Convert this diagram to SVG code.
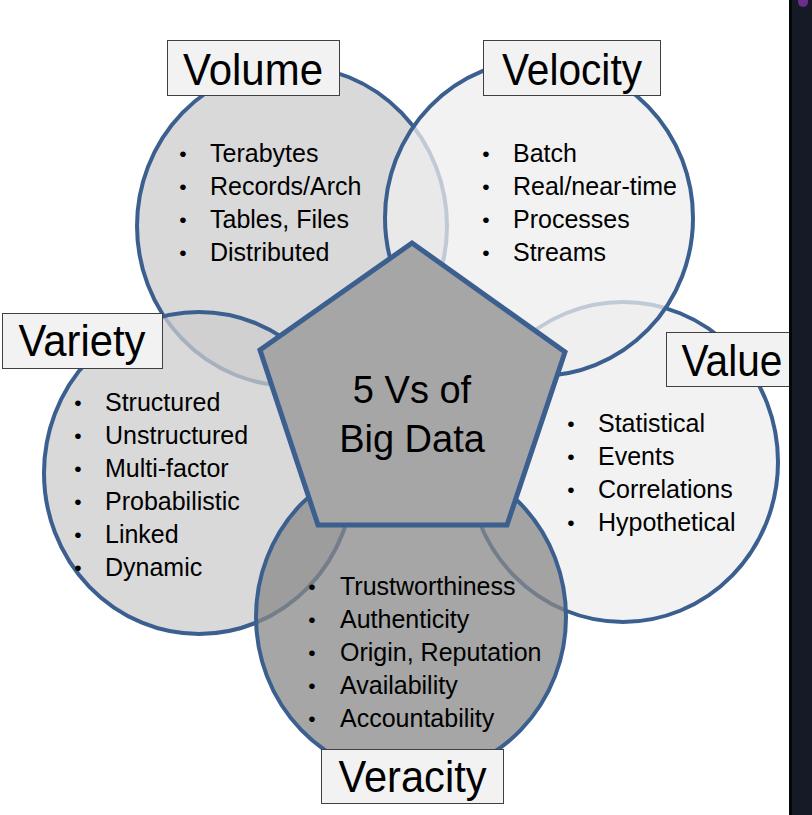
<svg xmlns="http://www.w3.org/2000/svg" width="812" height="815" viewBox="0 0 812 815">
<style>
.c{stroke:#3b5f8f;stroke-width:4;fill-opacity:0.75}
.lt{fill:#ededed}
.md{fill:#cccccc}
.dk{fill:#888888}
.box{fill:#f2f2f2;stroke:#404040;stroke-width:1}
.t{font-family:"Liberation Sans",Arial,sans-serif;fill:#000}
.h{font-size:45px;text-anchor:middle}
.b{font-size:25px}
.d{font-size:21px;text-anchor:middle}
</style>
<rect x="0" y="0" width="812" height="815" fill="#ffffff"/>

<g id="volume">
  <ellipse class="c md" cx="292" cy="226" rx="155" ry="160"/>
  <rect class="box" x="167.5" y="40.5" width="172" height="55"/>
  <text class="t h" x="253" y="85" textLength="140" lengthAdjust="spacingAndGlyphs">Volume</text>
  <g class="t">
    <text class="d" x="183" y="161">•</text><text class="b" x="210" y="162">Terabytes</text>
    <text class="d" x="183" y="194">•</text><text class="b" x="210" y="195">Records/Arch</text>
    <text class="d" x="183" y="227">•</text><text class="b" x="210" y="228">Tables, Files</text>
    <text class="d" x="183" y="260">•</text><text class="b" x="210" y="261">Distributed</text>
  </g>
</g>

<g id="value">
  <ellipse class="c lt" cx="623" cy="462" rx="155" ry="160"/>
  <rect class="box" x="666.5" y="332.5" width="134" height="54"/>
  <text class="t h" x="732" y="376" textLength="101" lengthAdjust="spacingAndGlyphs">Value</text>
  <g class="t">
    <text class="d" x="571" y="431">•</text><text class="b" x="598" y="432">Statistical</text>
    <text class="d" x="571" y="464">•</text><text class="b" x="598" y="465">Events</text>
    <text class="d" x="571" y="497">•</text><text class="b" x="598" y="498">Correlations</text>
    <text class="d" x="571" y="530">•</text><text class="b" x="598" y="531">Hypothetical</text>
  </g>
</g>

<g id="variety">
  <ellipse class="c md" cx="199" cy="473" rx="155" ry="161"/>
  <rect class="box" x="2.5" y="313.5" width="160" height="55"/>
  <text class="t h" x="82" y="356" textLength="127" lengthAdjust="spacingAndGlyphs">Variety</text>
  <g class="t">
    <text class="d" x="78" y="410">•</text><text class="b" x="105" y="411">Structured</text>
    <text class="d" x="78" y="443">•</text><text class="b" x="105" y="444">Unstructured</text>
    <text class="d" x="78" y="476">•</text><text class="b" x="105" y="477">Multi-factor</text>
    <text class="d" x="78" y="509">•</text><text class="b" x="105" y="510">Probabilistic</text>
    <text class="d" x="78" y="542">•</text><text class="b" x="105" y="543">Linked</text>
    <text class="d" x="78" y="575">•</text><text class="b" x="105" y="576">Dynamic</text>
  </g>
</g>

<g id="velocity">
  <ellipse class="c lt" cx="539" cy="218" rx="154" ry="158"/>
  <rect class="box" x="483.5" y="40.5" width="177" height="55"/>
  <text class="t h" x="572" y="85" textLength="140" lengthAdjust="spacingAndGlyphs">Velocity</text>
  <g class="t">
    <text class="d" x="486" y="161">•</text><text class="b" x="513" y="162">Batch</text>
    <text class="d" x="486" y="194">•</text><text class="b" x="513" y="195">Real/near-time</text>
    <text class="d" x="486" y="227">•</text><text class="b" x="513" y="228">Processes</text>
    <text class="d" x="486" y="260">•</text><text class="b" x="513" y="261">Streams</text>
  </g>
</g>

<g id="veracity">
  <ellipse class="c dk" cx="411" cy="617" rx="155" ry="160"/>
  <rect class="box" x="321.5" y="749.5" width="182" height="54"/>
  <text class="t h" x="412.5" y="792" textLength="148" lengthAdjust="spacingAndGlyphs">Veracity</text>
  <g class="t">
    <text class="d" x="312" y="594">•</text><text class="b" x="340" y="595">Trustworthiness</text>
    <text class="d" x="312" y="627">•</text><text class="b" x="340" y="628">Authenticity</text>
    <text class="d" x="312" y="660">•</text><text class="b" x="340" y="661">Origin, Reputation</text>
    <text class="d" x="312" y="693">•</text><text class="b" x="340" y="694">Availability</text>
    <text class="d" x="312" y="726">•</text><text class="b" x="340" y="727">Accountability</text>
  </g>
</g>

<g id="center">
  <polygon points="412,243 565,352 507,525 318,525 260,350" fill="#a6a6a6" stroke="#3b5f8f" stroke-width="5" stroke-linejoin="miter"/>
  <text class="t" x="412" y="403" font-size="38" text-anchor="middle">5 Vs of</text>
  <text class="t" x="412" y="452" font-size="38" text-anchor="middle">Big Data</text>
</g>

<g id="sidebar">
  <rect x="789" y="0" width="23" height="815" fill="#161a27"/>
  <rect x="789" y="0" width="3" height="815" fill="#050608"/>
  <rect x="798" y="-6" width="10" height="13" rx="5" fill="#6b2d8e"/>
</g>
</svg>
